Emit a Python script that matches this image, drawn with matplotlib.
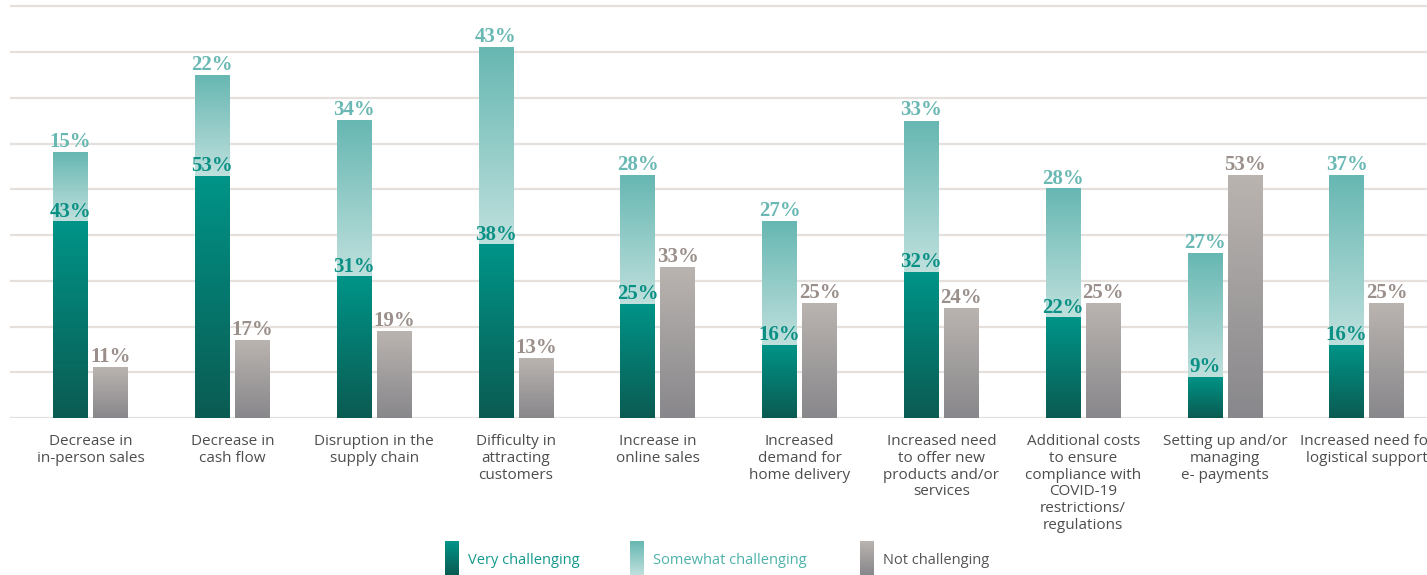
import numpy as np
import matplotlib
matplotlib.use("Agg")
import matplotlib.pyplot as plt
from matplotlib.colors import LinearSegmentedColormap

# Data (percent)
categories = [
    "Decrease in\nin-person sales",
    "Decrease in\ncash flow",
    "Disruption in the\nsupply chain",
    "Difficulty in\nattracting\ncustomers",
    "Increase in\nonline sales",
    "Increased\ndemand for\nhome delivery",
    "Increased need\nto offer new\nproducts and/or\nservices",
    "Additional costs\nto ensure\ncompliance with\nCOVID-19\nrestrictions/\nregulations",
    "Setting up and/or\nmanaging\ne- payments",
    "Increased need for\nlogistical support",
]
very = [43, 53, 31, 38, 25, 16, 32, 22, 9, 16]
somewhat = [15, 22, 34, 43, 28, 27, 33, 28, 27, 37]
not_ch = [11, 17, 19, 13, 33, 25, 24, 25, 53, 25]
series_names = ["Very challenging", "Somewhat challenging", "Not challenging"]

# gradients: (bottom colour, top colour)
grad_very = ("#0b5b52", "#009488")
grad_some = ("#bfe0dd", "#67b7b2")
grad_not = ("#88878b", "#bab4b0")
label_cols = ["#0a9084", "#69b8b3", "#9a8f8a"]
legend_text_cols = ["#13998c", "#4db2aa", "#555555"]


def cmap_of(pair):
    return LinearSegmentedColormap.from_list("g", list(pair))


def grad_bar(ax, x, w, y0, y1, pair):
    grad = np.linspace(0, 1, 256).reshape(-1, 1)
    ax.imshow(grad, extent=[x - w / 2, x + w / 2, y0, y1], origin="lower",
              aspect="auto", cmap=cmap_of(pair), zorder=3, interpolation="bilinear")


fig = plt.figure(figsize=(14.27, 5.75), dpi=100)
W, H = 1427, 575
ax = fig.add_axes([10 / W, 157 / H, (W - 10) / W, 413.9 / H])

x = np.arange(len(categories))
bw = 0.244
off = 0.141
serif = dict(family="Liberation Serif", fontweight="bold", fontsize=15)

for i in x:
    xv = i - off
    xn = i + off
    grad_bar(ax, xv, bw, 0, very[i], grad_very)
    grad_bar(ax, xv, bw, very[i], very[i] + somewhat[i], grad_some)
    grad_bar(ax, xn, bw, 0, not_ch[i], grad_not)
    ax.text(xv, very[i] + 1.0, f"{very[i]}%", ha="center", va="baseline",
            color=label_cols[0], zorder=5, **serif)
    ax.text(xv, very[i] + somewhat[i] + 1.2, f"{somewhat[i]}%", ha="center",
            va="baseline", color=label_cols[1], zorder=5, **serif)
    ax.text(xn, not_ch[i] + 1.2, f"{not_ch[i]}%", ha="center", va="baseline",
            color=label_cols[2], zorder=5, **serif)
    ax.text(i, -3.6, categories[i], ha="center", va="top", fontsize=11,
            family="Open Sans", color="#4d4d4d", linespacing=1.15,
            clip_on=False)

for g in range(0, 91, 10):
    ax.axhline(g, color="#e6e0dc", lw=1.6, zorder=1)

ax.set_xlim(-0.568, 9.425)
ax.set_ylim(0, 90.5)
ax.axis("off")

# legend
pairs = [grad_very, grad_some, grad_not]
px = [445, 630, 860]
for name, pair, p, tc in zip(series_names, pairs, px, legend_text_cols):
    lax = fig.add_axes([p / W, 0, 14 / W, 34 / H])
    lax.imshow(np.linspace(0, 1, 64).reshape(-1, 1), origin="lower",
               aspect="auto", cmap=cmap_of(pair), extent=[0, 1, 0, 1])
    lax.axis("off")
    fig.text((p + 23) / W, (575 - 561) / H, name, ha="left", va="center",
             fontsize=10.5, family="Open Sans", color=tc)

fig.savefig("out.png", dpi=100)
